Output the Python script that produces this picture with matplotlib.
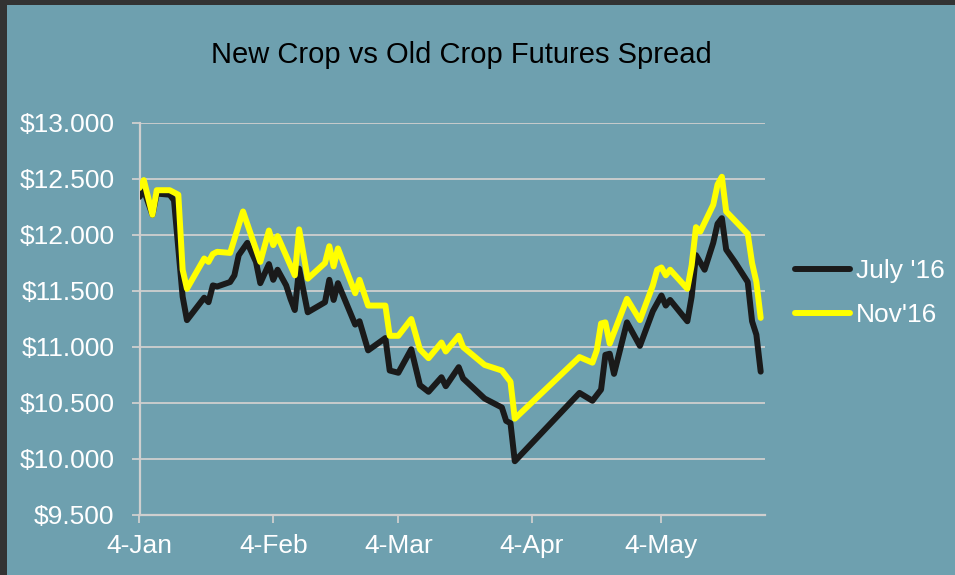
import matplotlib
matplotlib.use("Agg")
import matplotlib.pyplot as plt
import matplotlib.dates as mdates
from matplotlib.patches import Rectangle
import pandas as pd

plt.rcParams['font.family'] = ['Liberation Sans', 'DejaVu Sans']

title = "New Crop vs Old Crop Futures Spread"

july_dates = ["2016-01-04", "2016-01-05", "2016-01-07", "2016-01-08", "2016-01-11", "2016-01-12",
              "2016-01-14", "2016-01-15", "2016-01-19", "2016-01-20", "2016-01-21", "2016-01-22",
              "2016-01-25", "2016-01-26", "2016-01-27", "2016-01-29", "2016-01-31", "2016-02-01",
              "2016-02-03", "2016-02-04", "2016-02-05", "2016-02-07", "2016-02-08", "2016-02-09",
              "2016-02-10", "2016-02-12", "2016-02-16", "2016-02-17", "2016-02-18", "2016-02-19",
              "2016-02-23", "2016-02-24", "2016-02-26", "2016-03-01", "2016-03-02", "2016-03-04",
              "2016-03-07", "2016-03-09", "2016-03-11", "2016-03-14", "2016-03-15", "2016-03-18",
              "2016-03-19", "2016-03-24", "2016-03-28", "2016-03-29", "2016-03-30", "2016-03-31",
              "2016-04-15", "2016-04-18", "2016-04-20", "2016-04-21", "2016-04-22", "2016-04-23",
              "2016-04-26", "2016-04-29", "2016-05-02", "2016-05-04", "2016-05-05", "2016-05-06",
              "2016-05-10", "2016-05-11", "2016-05-12", "2016-05-14", "2016-05-16", "2016-05-17",
              "2016-05-18", "2016-05-19", "2016-05-21", "2016-05-24", "2016-05-25", "2016-05-26",
              "2016-05-27"]
july_vals = [12.34, 12.40, 12.18, 12.37, 12.36, 12.31,
             11.45, 11.24, 11.44, 11.40, 11.55, 11.54,
             11.58, 11.64, 11.82, 11.93, 11.76, 11.57,
             11.74, 11.60, 11.69, 11.55, 11.43, 11.33,
             11.70, 11.31, 11.40, 11.60, 11.42, 11.57,
             11.20, 11.23, 10.97, 11.08, 10.79, 10.77,
             10.98, 10.66, 10.60, 10.73, 10.65, 10.82,
             10.72, 10.54, 10.46, 10.34, 10.32, 9.98,
             10.59, 10.52, 10.62, 10.93, 10.94, 10.76,
             11.22, 11.01, 11.32, 11.46, 11.37, 11.42,
             11.23, 11.45, 11.82, 11.69, 11.93, 12.10,
             12.15, 11.87, 11.76, 11.58, 11.23, 11.11,
             10.78]

nov_dates = ["2016-01-04", "2016-01-05", "2016-01-07", "2016-01-08", "2016-01-11", "2016-01-13",
             "2016-01-14", "2016-01-15", "2016-01-19", "2016-01-20", "2016-01-21", "2016-01-22",
             "2016-01-25", "2016-01-28", "2016-02-01", "2016-02-03", "2016-02-04", "2016-02-05",
             "2016-02-09", "2016-02-10", "2016-02-12", "2016-02-16", "2016-02-17", "2016-02-18",
             "2016-02-19", "2016-02-23", "2016-02-24", "2016-02-26", "2016-03-01", "2016-03-02",
             "2016-03-04", "2016-03-07", "2016-03-09", "2016-03-11", "2016-03-14", "2016-03-15",
             "2016-03-18", "2016-03-19", "2016-03-24", "2016-03-28", "2016-03-30", "2016-03-31",
             "2016-04-15", "2016-04-18", "2016-04-19", "2016-04-20", "2016-04-21", "2016-04-22",
             "2016-04-26", "2016-04-29", "2016-05-02", "2016-05-03", "2016-05-04", "2016-05-05",
             "2016-05-06", "2016-05-10", "2016-05-11", "2016-05-12", "2016-05-13", "2016-05-16",
             "2016-05-17", "2016-05-18", "2016-05-19", "2016-05-24", "2016-05-25", "2016-05-26",
             "2016-05-27"]
nov_vals = [12.42, 12.49, 12.18, 12.40, 12.40, 12.36,
            11.69, 11.52, 11.79, 11.76, 11.83, 11.85,
            11.84, 12.21, 11.76, 12.04, 11.91, 11.99,
            11.64, 12.05, 11.61, 11.75, 11.90, 11.72,
            11.88, 11.48, 11.60, 11.37, 11.37, 11.10,
            11.10, 11.25, 10.98, 10.90, 11.04, 10.96,
            11.10, 11.00, 10.84, 10.79, 10.69, 10.36,
            10.91, 10.86, 10.97, 11.21, 11.22, 11.03,
            11.43, 11.24, 11.55, 11.69, 11.71, 11.64,
            11.69, 11.52, 11.73, 12.07, 12.03, 12.27,
            12.45, 12.52, 12.21, 12.01, 11.75, 11.58,
            11.26]

series_names = ["July '16", "Nov'16"]
series_colors = ["#1a1a1a", "#ffff00"]

x_tick_dates = ["2016-01-04", "2016-02-04", "2016-03-04", "2016-04-04", "2016-05-04"]
x_tick_labels = ["4-Jan", "4-Feb", "4-Mar", "4-Apr", "4-May"]
y_ticks = [9.5, 10.0, 10.5, 11.0, 11.5, 12.0, 12.5, 13.0]

BG = "#6ea0af"
GRID = "#cfcfcf"
W, H = 955, 575

fig = plt.figure(figsize=(W / 100, H / 100), dpi=100, facecolor=BG)
# dark frame strips (top and left)
fig.patches.append(Rectangle((0, 1 - 5 / H), 1, 5 / H, transform=fig.transFigure,
                             facecolor="#333333", edgecolor="none", zorder=0))
fig.patches.append(Rectangle((0, 0), 7 / W, 1, transform=fig.transFigure,
                             facecolor="#333333", edgecolor="none", zorder=0))

left, right, top, bottom = 139.5, 765, 123, 515
ax = fig.add_axes([left / W, 1 - bottom / H, (right - left) / W, (bottom - top) / H])
ax.set_facecolor(BG)

start = pd.Timestamp("2016-01-04")
xj = mdates.date2num(pd.to_datetime(july_dates))
xn = mdates.date2num(pd.to_datetime(nov_dates))

for xs, ys, name, col in [(xj, july_vals, series_names[0], series_colors[0]),
                          (xn, nov_vals, series_names[1], series_colors[1])]:
    ax.plot(xs, ys, color=col, lw=4.3, label=name, solid_joinstyle="round",
            solid_capstyle="round", zorder=3)

ax.set_xlim(mdates.date2num(start), mdates.date2num(start + pd.Timedelta(days=145)))
ax.set_ylim(9.5, 13.0)

ax.set_yticks(y_ticks)
ax.set_yticklabels(["${:.3f}".format(v) for v in y_ticks])
ax.set_xticks(mdates.date2num(pd.to_datetime(x_tick_dates)))
ax.set_xticklabels(x_tick_labels)

ax.grid(axis="y", color=GRID, lw=1.3, zorder=1)
ax.grid(axis="x", visible=False)
for s in ["top", "right"]:
    ax.spines[s].set_visible(False)
for s in ["left", "bottom"]:
    ax.spines[s].set_color(GRID)
    ax.spines[s].set_linewidth(1.6)
ax.tick_params(axis="y", colors=GRID, length=6, width=1.3, pad=12, labelsize=19,
               labelcolor="white")
ax.tick_params(axis="x", colors=GRID, length=6, width=1.3, pad=8, labelsize=19,
               labelcolor="white")

fig.text(461 / W, 1 - 55 / H, title, ha="center", va="center", fontsize=21, color="black")

leg = fig.legend(loc="center left", bbox_to_anchor=(795 / W, 1 - 293 / H), frameon=False,
                 fontsize=19, handlelength=2.1, handletextpad=0.2, labelspacing=0.75,
                 borderpad=0, borderaxespad=0)
for t in leg.get_texts():
    t.set_color("white")

fig.savefig("out.png", dpi=100, facecolor=BG)
